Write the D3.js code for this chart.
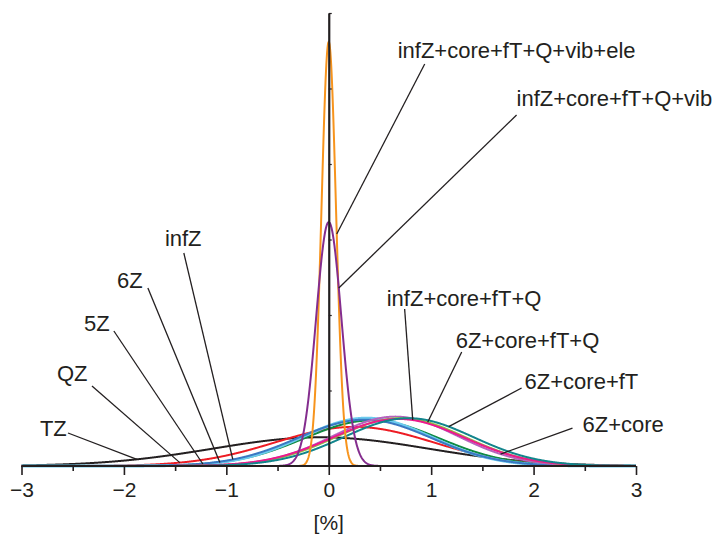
<!DOCTYPE html>
<html>
<head>
<meta charset="utf-8">
<script src="https://cdn.jsdelivr.net/npm/d3@7"></script>
<style>
  html, body { margin: 0; padding: 0; background: #fff; }
  svg { display: block; }
  text { font-family: "Liberation Sans", Arial, Helvetica, sans-serif; fill: #231f20; }
</style>
</head>
<body>
<svg id="chart" width="717" height="535"></svg>
<script>
// ---------------- data ----------------
const xTicks = [-3, -2, -1, 0, 1, 2, 3];
const xMinorTicks = [-2.5, -1.5, -0.5, 0.5, 1.5, 2.5];
const yTicks = [1, 2, 3, 4, 5, 6];
const xAxisLabel = "[%]";

// error distributions: normal densities, mean and standard deviation in %
const seriesNames = [
  "TZ", "QZ", "5Z", "6Z", "infZ",
  "6Z+core", "6Z+core+fT+Q", "infZ+core+fT+Q", "6Z+core+fT",
  "infZ+core+fT+Q+vib+ele", "infZ+core+fT+Q+vib"
];
const seriesMeans  = [-0.08, 0.25, 0.42, 0.37, 0.35, 0.65, 0.70, 0.68, 0.78, 0.00, 0.00];
const seriesSigmas = [ 1.05, 0.77, 0.66, 0.63, 0.65, 0.61, 0.63, 0.64, 0.63, 0.071, 0.1235];

// ---------------- styles ----------------
const seriesColors = [
  "#231f20", "#ed1c24", "#0f8a43", "#6ccbee", "#3a78c2",
  "#b562bd", "#8cc63f", "#ec1a8c", "#12858c",
  "#f7941d", "#842d8e"
];
const seriesWidths = [2, 2, 2, 3, 2, 2, 2, 2, 2, 2, 2];

// annotation placement, in data units: text start (tx, ty), leader start (sx, sy), leader end x (ex)
const annotations = [
  { s: "infZ+core+fT+Q+vib+ele", tx: 0.673, ty: 5.404, sx: 0.937, sy: 5.325, ex: 0.078 },
  { s: "infZ+core+fT+Q+vib",     tx: 1.834, ty: 4.772, sx: 1.834, sy: 4.649, ex: 0.098 },
  { s: "infZ",                   tx: -1.600, ty: 2.914, sx: -1.415, sy: 2.821, ex: -0.937 },
  { s: "6Z",                     tx: -2.068, ty: 2.358, sx: -1.766, sy: 2.358, ex: -1.063 },
  { s: "5Z",                     tx: -2.390, ty: 1.792, sx: -2.098, sy: 1.788, ex: -1.229 },
  { s: "QZ",                     tx: -2.654, ty: 1.126, sx: -2.312, sy: 1.060, ex: -1.454 },
  { s: "TZ",                     tx: -2.820, ty: 0.401, sx: -2.546, sy: 0.437, ex: -1.873 },
  { s: "infZ+core+fT+Q",         tx: 0.566, ty: 2.119, sx: 0.741, sy: 2.079, ex: 0.820 },
  { s: "6Z+core+fT+Q",           tx: 1.239, ty: 1.567, sx: 1.298, sy: 1.510, ex: 0.966 },
  { s: "6Z+core+fT",             tx: 1.912, ty: 1.017, sx: 1.883, sy: 1.033, ex: 1.171 },
  { s: "6Z+core",                tx: 2.478, ty: 0.450, sx: 2.380, sy: 0.503, ex: 1.678 }
];

// ---------------- drawing ----------------
const svg = d3.select("#chart");
const x = d3.scaleLinear().domain([-3, 3]).range([21.5, 636]);
const y = d3.scaleLinear().domain([0, 6]).range([466, 13]);

const SQ2PI = Math.sqrt(2 * Math.PI);
function density(i, v) {
  const m = seriesMeans[i], s = seriesSigmas[i];
  const z = (v - m) / s;
  return Math.exp(-0.5 * z * z) / (s * SQ2PI);
}
const grid = d3.range(0, 1501).map(k => -3 + k * 0.004);

const line = d3.line().x(d => x(d[0])).y(d => y(d[1]));

const curves = svg.append("g");
seriesNames.forEach((name, i) => {
  curves.append("path")
    .datum(grid.map(v => [v, density(i, v)]))
    .attr("d", line)
    .attr("fill", "none")
    .attr("stroke", seriesColors[i])
    .attr("stroke-width", seriesWidths[i])
    .attr("stroke-linejoin", "round");
});

// x axis: minor ticks
const xMinor = svg.append("g").attr("transform", `translate(0,${y(0)})`)
  .call(d3.axisBottom(x).tickValues(xMinorTicks).tickSize(5).tickFormat(""));
xMinor.select(".domain").remove();
xMinor.selectAll("line").attr("stroke", "#231f20").attr("stroke-width", 1.6);

// x axis: major ticks + labels
const xMajor = svg.append("g").attr("transform", `translate(0,${y(0)})`)
  .call(d3.axisBottom(x).tickValues(xTicks).tickSize(9).tickSizeOuter(0).tickFormat(d3.format("d")));
xMajor.select(".domain").attr("stroke", "#231f20").attr("stroke-width", 2).attr("d", `M${x(-3)},0H${x(3)}`);
xMajor.selectAll(".tick line").attr("stroke", "#231f20").attr("stroke-width", 1.6);
xMajor.selectAll(".tick text")
  .attr("y", 31).attr("dy", null)
  .style("font-size", "21px")
  .style("font-family", "'Liberation Sans', Arial, sans-serif")
  .attr("fill", "#231f20");

// y axis (vertical line at 0, small ticks on the right)
const yAx = svg.append("g").attr("transform", `translate(${x(0)},0)`)
  .call(d3.axisRight(y).tickValues(yTicks).tickSize(3).tickSizeOuter(0).tickFormat(""));
yAx.select(".domain").attr("stroke", "#231f20").attr("stroke-width", 2.2);
yAx.selectAll(".tick line").attr("stroke", "#231f20").attr("stroke-width", 1.2);

// axis title
svg.append("text")
  .attr("x", x(0)).attr("y", 530)
  .attr("text-anchor", "middle")
  .style("font-size", "21px")
  .text(xAxisLabel);

// annotations
const ann = svg.append("g");
annotations.forEach(a => {
  const i = seriesNames.indexOf(a.s);
  ann.append("line")
    .attr("x1", x(a.sx)).attr("y1", y(a.sy))
    .attr("x2", x(a.ex)).attr("y2", y(density(i, a.ex)))
    .attr("stroke", "#231f20").attr("stroke-width", 1.3);
  ann.append("text")
    .attr("x", x(a.tx)).attr("y", y(a.ty))
    .style("font-size", "22px")
    .text(a.s);
});
</script>
</body>
</html>
